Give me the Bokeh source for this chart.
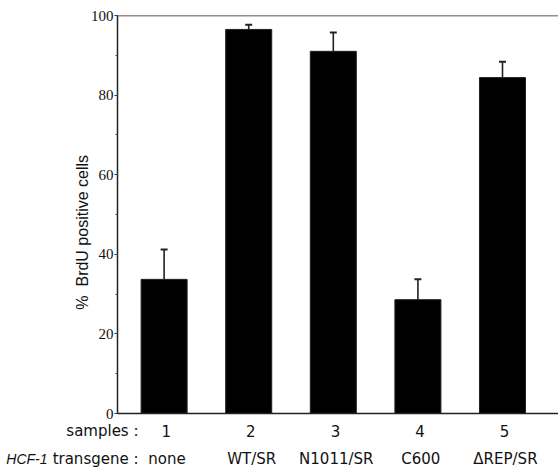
from bokeh.plotting import figure
from bokeh.layouts import column, row
from bokeh.models import (Range1d, SingleIntervalTicker, FixedTicker, Span, Whisker,
                          TeeHead, ColumnDataSource)
from bokeh.core.properties import value
from bokeh.embed import file_html
from bokeh.resources import INLINE

samples = [1, 2, 3, 4, 5]
sample_names = ["1", "2", "3", "4", "5"]
transgenes = ["none", "WT/SR", "N1011/SR", "C600", "\u0394REP/SR"]
brdu_pct = [33.7, 96.5, 91.0, 28.6, 84.4]
err_up = [7.5, 1.2, 4.7, 5.1, 4.0]

upper = [m + e for m, e in zip(brdu_pct, err_up)]
src = ColumnDataSource(dict(x=samples, top=brdu_pct, upper=upper))

W = 558
TOP_H = 421
BOT_H = 470 - TOP_H
X0, X1 = 0.449, 5.662

p = figure(width=W, height=TOP_H, output_backend="svg", toolbar_location=None,
           x_range=Range1d(X0, X1), y_range=Range1d(0, 100),
           min_border=0, min_border_left=117, min_border_right=0,
           min_border_top=15, min_border_bottom=TOP_H - 413)
p.outline_line_color = None
p.grid.visible = False

p.vbar(x="x", top="top", width=0.544, source=src, fill_color="black",
       line_color="#222222", line_width=1)

wh = Whisker(base="x", upper="upper", lower="top", source=src,
             line_color="#222222", line_width=1.6,
             upper_head=TeeHead(size=7, line_color="#222222", line_width=2),
             lower_head=None)
p.add_layout(wh)

ya = p.yaxis[0]
ya.ticker = SingleIntervalTicker(interval=20, num_minor_ticks=2)
ya.major_label_text_font = "Liberation Serif"
ya.major_label_text_font_size = "15px"
ya.major_label_text_color = "#111111"
ya.major_tick_out = 3
ya.major_tick_in = 0
ya.minor_tick_out = 2
ya.minor_tick_in = 0
ya.major_label_standoff = 1
ya.axis_line_width = 1.5
ya.axis_line_color = "#222222"
ya.major_tick_line_color = "#222222"
ya.minor_tick_line_color = "#444444"
ya.axis_label = "%\u00a0\u00a0BrdU positive cells" + "\u00a0" * 8
ya.axis_label_text_font = "Liberation Sans"
ya.axis_label_text_font_size = "16px"
ya.axis_label_text_font_style = "normal"
ya.axis_label_text_color = "#111111"
ya.axis_label_standoff = -3

xa = p.xaxis[0]
xa.ticker = FixedTicker(ticks=[])
xa.major_tick_line_color = None
xa.minor_tick_line_color = None
xa.major_label_standoff = 0
xa.major_tick_out = 0
xa.axis_line_width = 1.5
xa.axis_line_color = "#222222"

p.add_layout(Span(location=100, dimension="width", line_color="#222222", line_width=1.5))

# bottom text strip, same horizontal data scale as the chart
px_per_unit = (W - 117) / (X1 - X0)
b0 = X0 - 117 / px_per_unit
q = figure(width=W, height=BOT_H, output_backend="svg", toolbar_location=None,
           x_range=Range1d(b0, X1), y_range=Range1d(0, BOT_H),
           min_border=0)
q.outline_line_color = None
q.grid.visible = False
q.axis.visible = False

def y_of(img_y):
    return 470 - img_y

font = value("DejaVu Sans")
fs = value("15px")
row1 = y_of(430)
row2 = y_of(458)
q.text(x=[s + 0.025 for s in samples], y=[row1] * 5, text=sample_names,
       text_align="center", text_baseline="middle", text_font=font,
       text_font_size=fs, text_color="#111111")
q.text(x=[s + 0.035 for s in samples], y=[row2] * 5, text=transgenes,
       text_align="center", text_baseline="middle", text_font=font,
       text_font_size=fs, text_color="#111111")

xr = b0 + 138 / px_per_unit
xh = b0 + 47 / px_per_unit
q.text(x=[xr, xr], y=[row1, row2], text=["samples :", "transgene :"],
       text_align="right", text_baseline="middle", text_font=font,
       text_font_size=fs, text_color="#111111")
q.text(x=[xh], y=[row2], text=["HCF-1"], text_align="right", text_baseline="middle",
       text_font=value("Liberation Sans"), text_font_size=value("14px"),
       text_font_style="italic", text_color="#111111")

layout = column(row(p), row(q), spacing=0)
open("out.html", "w").write(file_html(layout, INLINE))
